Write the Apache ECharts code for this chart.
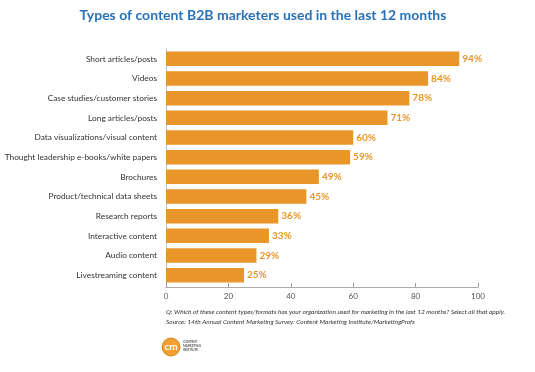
<!DOCTYPE html>
<html><head><meta charset="utf-8">
<script src="https://cdn.jsdelivr.net/npm/echarts@6/dist/echarts.min.js"></script>
<style>html,body{margin:0;padding:0;background:#fff}#c{width:535px;height:372px}</style>
</head><body><div id="c"></div>
<script>
var categories = ["Short articles/posts","Videos","Case studies/customer stories","Long articles/posts","Data visualizations/visual content","Thought leadership e-books/white papers","Brochures","Product/technical data sheets","Research reports","Interactive content","Audio content","Livestreaming content"];
var values = [94,84,78,71,60,59,49,45,36,33,29,25];
var xTicks = [0,20,40,60,80,100];
var titleText = "Types of content B2B marketers used in the last 12 months";
var noteQ = "Q: Which of these content types/formats has your organization used for marketing in the last 12 months? Select all that apply.";
var noteSource = "Source: 14th Annual Content Marketing Survey: Content Marketing Institute/MarketingProfs";

var chart = echarts.init(document.getElementById('c'));
chart.setOption({
  animation:false,
  backgroundColor:'#fff',
  title:{text:titleText,left:258,textAlign:'center',top:3,textStyle:{fontFamily:'Lato',fontWeight:'bold',fontSize:14,color:'#2a72b8'}},
  grid:{left:166,right:57,top:49,height:236,containLabel:false,outerBoundsMode:'none'},
  xAxis:{type:'value',min:xTicks[0],max:xTicks[xTicks.length-1],interval:20,offset:2,
    axisLine:{show:true,lineStyle:{color:'#aaa',width:1}},
    axisTick:{show:true,inside:true,length:4,lineStyle:{color:'#999'}},
    splitLine:{show:false},
    axisLabel:{fontFamily:'Lato',fontSize:8,color:'#555',margin:5}},
  yAxis:{type:'category',data:categories,inverse:true,
    axisLine:{show:true,lineStyle:{color:'#bbb'}},axisTick:{show:false},
    axisLabel:{fontFamily:'Lato',fontSize:8.3,color:'#333',margin:9}},
  series:[{type:'bar',data:values,barWidth:'74%',
    itemStyle:{color:'#e8962a'},
    label:{show:true,position:'right',distance:3,formatter:'{c}%',fontFamily:'Lato',fontWeight:'bold',fontSize:10,color:'#e8962a'}}],
  graphic:[
    {type:'text',left:166,top:308,style:{text:noteQ,font:'italic 6.5px Lato',fill:'#333'}},
    {type:'text',left:166,top:318,style:{text:noteSource,font:'italic 6.5px Lato',fill:'#333'}},
    {type:'circle',shape:{cx:171,cy:347,r:9},style:{fill:'#f0a030',stroke:'#d58b1e',lineWidth:1}},
    {type:'text',x:171,y:347,style:{text:'cm',font:'bold 10px Lato',fill:'#fff',align:'center',verticalAlign:'middle'}},
    {type:'text',left:183,top:340,style:{text:'CONTENT\nMARKETING\nINSTITUTE',font:'bold 3px Lato',fill:'#555',lineHeight:4}}
  ]
});
</script></body></html>
